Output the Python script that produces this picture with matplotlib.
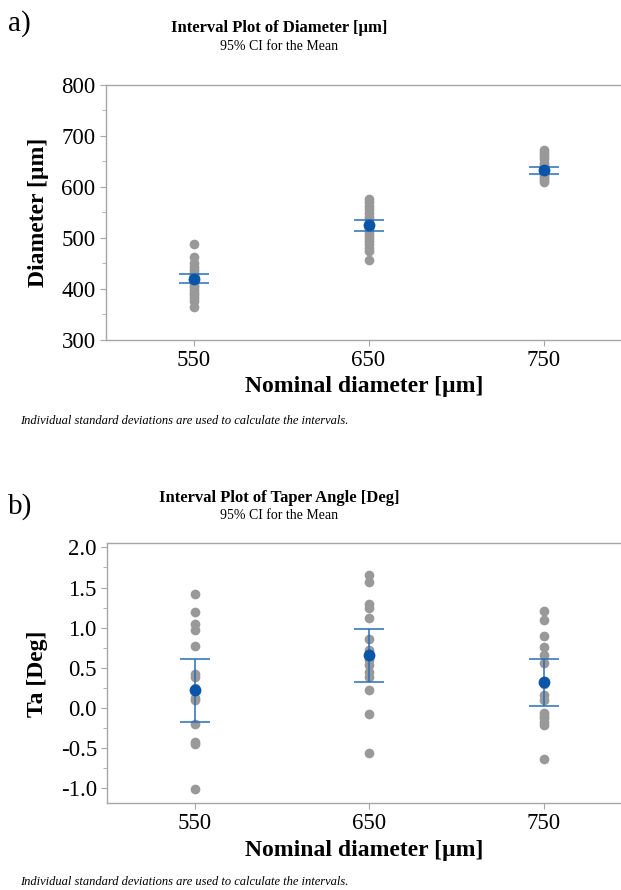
import matplotlib.pyplot as plt
import numpy as np
from matplotlib.ticker import MultipleLocator

plt.rcParams['font.family'] = ['Liberation Serif', 'DejaVu Serif']
plt.rcParams['axes.unicode_minus'] = False

# dữ liệu
nominal = [550, 650, 750]
tick_labels = ['550', '650', '750']

dia_550 = [489, 463, 450, 444, 438, 432, 428, 425, 421, 417, 413, 408, 403, 398, 393, 388, 382, 376, 364]
dia_650 = [577, 570, 563, 556, 549, 542, 536, 530, 524, 518, 512, 506, 500, 494, 488, 481, 474, 456]
dia_750 = [673, 666, 660, 654, 648, 643, 638, 634, 630, 626, 622, 618, 614, 610]
dia_mean = [419, 525, 633]
dia_ci_low = [411, 514, 625]
dia_ci_high = [429, 536, 640]

ta_550 = [1.42, 1.20, 1.04, 0.97, 0.77, 0.42, 0.38, 0.25, 0.13, 0.10, -0.20, -0.42, -0.45, -1.01]
ta_650 = [1.66, 1.57, 1.30, 1.24, 1.12, 0.86, 0.72, 0.64, 0.60, 0.54, 0.45, 0.39, 0.22, -0.07, -0.56]
ta_750 = [1.21, 1.09, 0.90, 0.76, 0.66, 0.56, 0.30, 0.16, 0.10, -0.06, -0.10, -0.13, -0.17, -0.21, -0.64]
ta_mean = [0.23, 0.66, 0.32]
ta_ci_low = [-0.17, 0.32, 0.02]
ta_ci_high = [0.61, 0.98, 0.61]

gray = '#999999'
blue = '#0a55a8'
spine = '#a6a6a6'

fig = plt.figure(figsize=(6.21, 8.90), dpi=100)


def draw_panel(ax, groups, mean, lo, hi, ylim, major, minor, ylabel):
    for x, vals in zip(nominal, groups):
        ax.plot([x] * len(vals), vals, 'o', color=gray, ms=7, mec='none', zorder=2)
    mean = np.array(mean)
    yerr = [mean - np.array(lo), np.array(hi) - mean]
    ax.errorbar(nominal, mean, yerr=yerr, fmt='o', color=blue, ms=8.5, mec='none',
                ecolor='#2a6ebb', elinewidth=1.1, capsize=10.5, capthick=1.1, zorder=3)
    ax.set_xlim(500, 794.5)
    ax.set_ylim(*ylim)
    ax.set_xticks(nominal)
    ax.set_xticklabels(tick_labels)
    ax.yaxis.set_major_locator(MultipleLocator(major))
    ax.yaxis.set_minor_locator(MultipleLocator(minor))
    for s in ax.spines.values():
        s.set_color(spine)
        s.set_linewidth(1.0)
    ax.spines['right'].set_visible(False)
    ax.tick_params(which='both', colors=spine, labelcolor='black', labelsize=16.5, direction='out')
    ax.tick_params(which='major', length=4)
    ax.tick_params(which='minor', length=3)
    ax.tick_params(axis='x', length=4, pad=3)
    ax.set_ylabel(ylabel, fontsize=17, fontweight='bold', labelpad=9)
    ax.set_xlabel('Nominal diameter [µm]', fontsize=17, fontweight='bold', labelpad=4)


ax1 = fig.add_axes([0.1707, 0.618, 0.830, 0.2865])
draw_panel(ax1, [dia_550, dia_650, dia_750], dia_mean, dia_ci_low, dia_ci_high,
           (300, 800), 100, 50, 'Diameter [µm]')
ax1.yaxis.set_major_formatter(lambda v, p: f'{v:.0f}')

ax2 = fig.add_axes([0.1728, 0.0974, 0.828, 0.2921])
draw_panel(ax2, [ta_550, ta_650, ta_750], ta_mean, ta_ci_low, ta_ci_high,
           (-1.187, 2.05), 0.5, 0.25, 'Ta [Deg]')
ax2.yaxis.set_major_formatter(lambda v, p: f'{v:.1f}')

# tiêu đề và chú thích
fig.text(0.013, 0.974, 'a)', fontsize=21, va='center', ha='left')
fig.text(0.449, 0.969, 'Interval Plot of Diameter [µm]', fontsize=12, fontweight='bold', ha='center', va='center')
fig.text(0.449, 0.948, '95% CI for the Mean', fontsize=10, ha='center', va='center')
fig.text(0.032, 0.527, 'Individual standard deviations are used to calculate the intervals.',
         fontsize=9, style='italic', ha='left', va='center')

fig.text(0.013, 0.431, 'b)', fontsize=21, va='center', ha='left')
fig.text(0.449, 0.441, 'Interval Plot of Taper Angle [Deg]', fontsize=12, fontweight='bold', ha='center', va='center')
fig.text(0.449, 0.421, '95% CI for the Mean', fontsize=10, ha='center', va='center')
fig.text(0.032, 0.009, 'Individual standard deviations are used to calculate the intervals.',
         fontsize=9, style='italic', ha='left', va='center')

fig.savefig('out.png', dpi=100)
